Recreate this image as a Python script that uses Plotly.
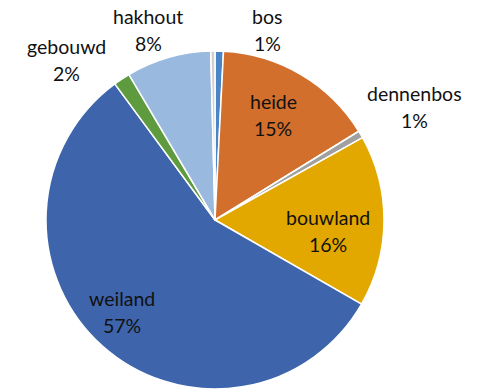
import plotly.graph_objects as go

# Land use shares, clockwise from 12 o'clock
labels = ["bos", "heide", "dennenbos", "bouwland", "weiland", "gebouwd", "hakhout", "overig"]
values = [0.8, 15.4, 0.7, 16.4, 56.6, 1.6, 8.1, 0.4]
colors = ["#4A86C5", "#D36F2C", "#A0A0A0", "#E2A800", "#3E64AC", "#5E9A3E", "#99B9DF", "#D0D0D0"]
show_label = [True, True, True, True, True, True, True, False]

W, H = 483, 391
CX, CY, R = 215, 220, 169  # pie centre and radius in pixels

# label block centres in pixels (x from left, y from top)
label_pos = {
    "bos": (267, 30),
    "heide": (273, 115),
    "dennenbos": (414, 107),
    "bouwland": (328, 231),
    "weiland": (122, 312),
    "gebouwd": (66, 60),
    "hakhout": (148, 30),
}

fig = go.Figure(go.Pie(
    labels=labels,
    values=values,
    sort=False,
    direction="clockwise",
    rotation=0,
    marker=dict(colors=colors, line=dict(color="white", width=1.5)),
    textinfo="none",
    hoverinfo="label+percent",
    showlegend=False,
    domain=dict(x=[(CX - R) / W, (CX + R) / W],
                y=[(H - CY - R) / H, (H - CY + R) / H]),
))

total = sum(values)
font = dict(family="Lato, Carlito, sans-serif", size=19.5, color="#111111")
LINE = 13.5
for name, v, show in zip(labels, values, show_label):
    if not show:
        continue
    px, py = label_pos[name]
    pct = f"{round(100 * v / total):d}%"
    for txt, dy in ((name, -LINE), (pct, LINE)):
        fig.add_annotation(
            x=px / W, y=(H - (py + dy)) / H, xref="paper", yref="paper",
            text=txt, showarrow=False, font=font,
            xanchor="center", yanchor="middle",
        )

fig.update_layout(
    width=W, height=H,
    margin=dict(l=0, r=0, t=0, b=0),
    paper_bgcolor="white",
    plot_bgcolor="white",
)

fig.write_html("out.html")
